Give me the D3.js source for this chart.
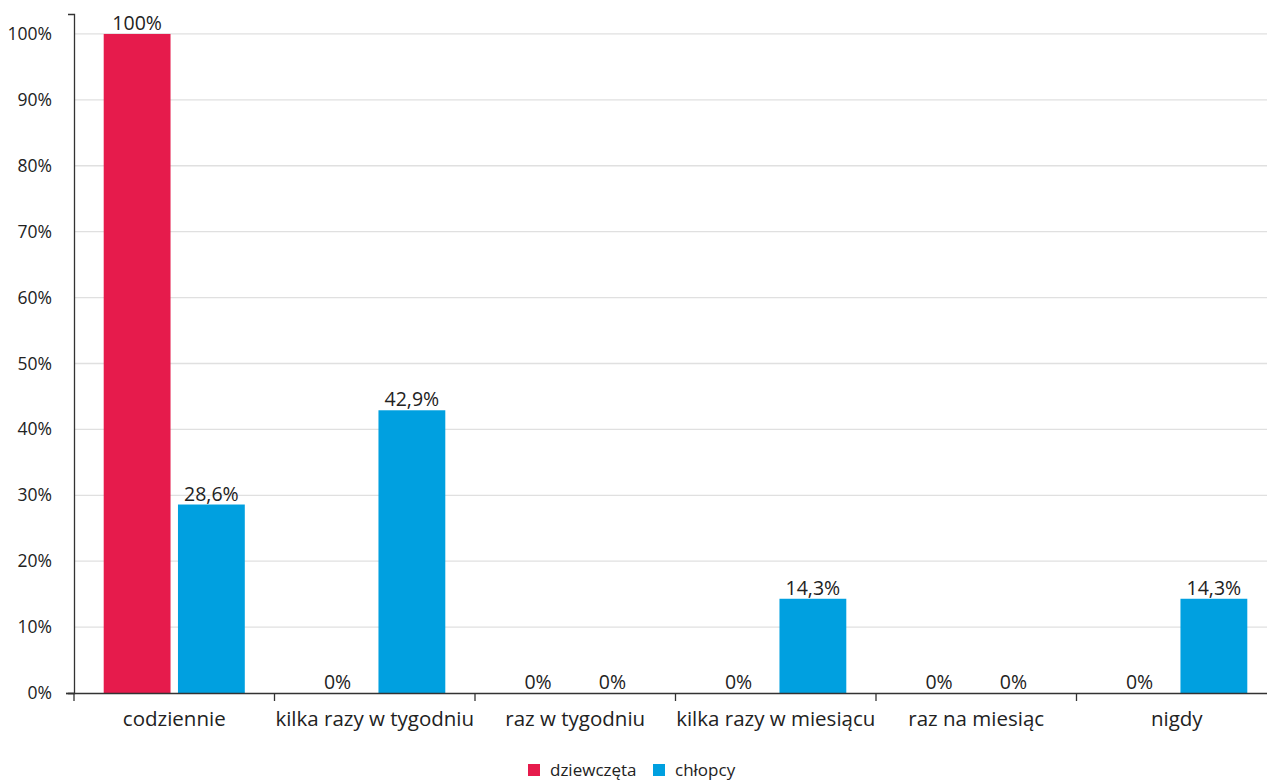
<!DOCTYPE html>
<html><head><meta charset="utf-8">
<script src="https://cdn.jsdelivr.net/npm/d3@7"></script>
<style>
body{margin:0;background:#fff;}
svg{display:block;font-family:"Open Sans",sans-serif;}
</style></head>
<body><svg id="c" width="1267" height="780"></svg>
<script>
const categories = ["codziennie","kilka razy w tygodniu","raz w tygodniu","kilka razy w miesiącu","raz na miesiąc","nigdy"];
const seriesNames = ["dziewczęta","chłopcy"];
const girls = [100, 0, 0, 0, 0, 0];
const boys = [28.6, 42.9, 0, 14.3, 0, 14.3];
const yTicks = [0,10,20,30,40,50,60,70,80,90,100];
const colors = ["#e61b4c","#00a0e0"];

const svg = d3.select("#c");
const x0 = d3.scaleBand().domain(categories).range([74, 1277]).paddingInner(0).paddingOuter(0);
const x1 = d3.scaleBand().domain(seriesNames).range([0, x0.bandwidth()]).paddingInner(0.1).paddingOuter(0.4);
const y = d3.scaleLinear().domain([0, 103.03]).range([693, 14]);

// grid
svg.append("g").selectAll("line").data(yTicks.slice(1)).join("line")
  .attr("x1", 74).attr("x2", 1267).attr("y1", d=>y(d)).attr("y2", d=>y(d))
  .attr("stroke", "#e0e0e0").attr("stroke-width", 1.3);

const fmt = v => (v===0?"0":(Number.isInteger(v)?String(v):String(v).replace(".", ","))) + "%";

const data = seriesNames.map((s,i)=>({name:s, values: i===0?girls:boys, color:colors[i]}));
const g = svg.append("g");
data.forEach(s=>{
  g.selectAll(null).data(categories.map((c,j)=>({c, v:s.values[j]}))).join("text")
    .attr("x", d=>x0(d.c)+x1(s.name)+x1.bandwidth()/2).attr("y", d=>y(d.v)-4)
    .attr("text-anchor","middle").attr("font-size", 19.5).attr("fill","#222")
    .text(d=>fmt(d.v));
});
data.forEach(s=>{
  g.selectAll(null).data(categories.map((c,j)=>({c, v:s.values[j]}))).join("rect")
    .attr("x", d=>x0(d.c)+x1(s.name)).attr("width", x1.bandwidth())
    .attr("y", d=>y(d.v)).attr("height", d=>y(0)-y(d.v)).attr("fill", s.color);
});

// y axis
const ya = svg.append("g").attr("transform","translate(74,0)")
  .call(d3.axisLeft(y).tickValues(yTicks).tickFormat(d=>d+"%").tickSize(8).tickSizeOuter(6).tickPadding(14));
ya.selectAll("text").attr("font-size",17.5).attr("fill","#222").attr("font-family","Open Sans");
ya.selectAll("line,path").attr("stroke","#333").attr("stroke-width",1.3);
ya.selectAll(".tick").filter(d=>d!==0).select("line").remove();

// x axis
const xa = svg.append("g").attr("transform","translate(0,693)")
  .call(d3.axisBottom(x0).tickSize(8).tickSizeOuter(0).tickPadding(10));
xa.select(".domain").attr("d","M66,0.5H1267");
xa.selectAll(".tick line").attr("transform", d=>`translate(${-x0.bandwidth()/2},0)`);
xa.selectAll("text").attr("font-size",20.5).attr("fill","#222").attr("font-family","Open Sans");
xa.selectAll("line,path").attr("stroke","#333").attr("stroke-width",1.3);

// legend
const leg = svg.append("g").attr("font-size",17).attr("fill","#222");
const legX = [528, 653];
seriesNames.forEach((s,i)=>{
  leg.append("rect").attr("x",legX[i]).attr("y",764).attr("width",12).attr("height",12).attr("fill",colors[i]);
  leg.append("text").attr("x",legX[i]+22).attr("y",776).text(s);
});
</script></body></html>
